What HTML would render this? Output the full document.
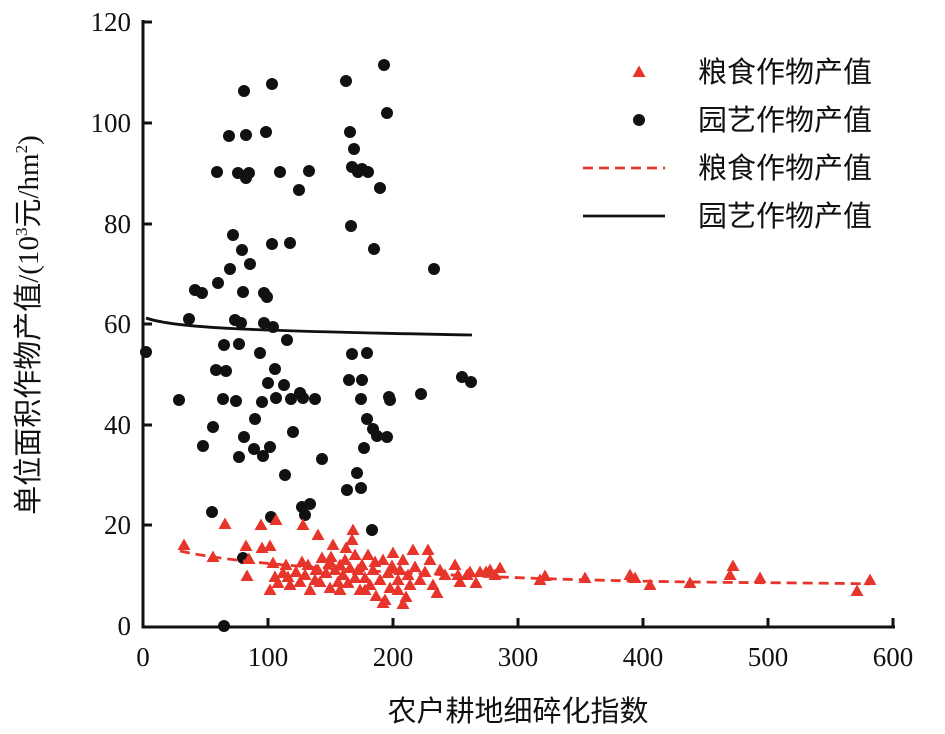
<!DOCTYPE html><html><head><meta charset="utf-8"><style>body{margin:0;background:#fff}svg text{font-family:"Liberation Serif","Noto Sans CJK SC",serif;fill:#111}</style></head><body>
<svg width="945" height="729" viewBox="0 0 945 729" xmlns="http://www.w3.org/2000/svg">
<defs><polygon id="t" points="0,-6.5 6.5,5 -6.5,5" fill="#e8352b"/><circle id="c" r="6" fill="#111"/></defs>
<g stroke="#111" stroke-width="3" fill="none"><path d="M143,20 V627 H895"/>
<path d="M143,22h9M143,123h9M143,224h9M143,324h9M143,425h9M143,525h9M268,627v-9M393,627v-9M518,627v-9M643,627v-9M768,627v-9M893,627v-9"/></g>
<g font-size="27" text-anchor="end"><text x="131" y="31">120</text><text x="131" y="132">100</text><text x="131" y="233">80</text><text x="131" y="333">60</text><text x="131" y="434">40</text><text x="131" y="534">20</text><text x="131" y="635">0</text></g>
<g font-size="27" text-anchor="middle"><text x="143" y="666">0</text><text x="268" y="666">100</text><text x="393" y="666">200</text><text x="518" y="666">300</text><text x="643" y="666">400</text><text x="768" y="666">500</text><text x="893" y="666">600</text></g>
<text x="518" y="721" font-size="29" text-anchor="middle">农户耕地细碎化指数</text>
<text transform="translate(38,325) rotate(-90)" font-size="29" text-anchor="middle">单位面积作物产值/(10<tspan font-size="17" dy="-11">3</tspan><tspan dy="11">元/hm</tspan><tspan font-size="17" dy="-11">2</tspan><tspan dy="11">)</tspan></text>
<g>
<use href="#c" x="146" y="352"/><use href="#c" x="179" y="400"/><use href="#c" x="189" y="319"/><use href="#c" x="195" y="290"/><use href="#c" x="202" y="293"/><use href="#c" x="203" y="446"/><use href="#c" x="212" y="512"/><use href="#c" x="213" y="427"/><use href="#c" x="216" y="370"/><use href="#c" x="217" y="172"/><use href="#c" x="218" y="283"/><use href="#c" x="223" y="399"/><use href="#c" x="224" y="345"/><use href="#c" x="226" y="371"/><use href="#c" x="229" y="136"/><use href="#c" x="230" y="269"/><use href="#c" x="233" y="235"/><use href="#c" x="235" y="320"/><use href="#c" x="236" y="401"/><use href="#c" x="238" y="173"/><use href="#c" x="239" y="344"/><use href="#c" x="239" y="457"/><use href="#c" x="241" y="323"/><use href="#c" x="242" y="250"/><use href="#c" x="243" y="292"/><use href="#c" x="244" y="91"/><use href="#c" x="244" y="437"/><use href="#c" x="246" y="135"/><use href="#c" x="246" y="178"/><use href="#c" x="249" y="173"/><use href="#c" x="250" y="264"/><use href="#c" x="254" y="449"/><use href="#c" x="255" y="419"/><use href="#c" x="260" y="353"/><use href="#c" x="262" y="402"/><use href="#c" x="263" y="456"/><use href="#c" x="264" y="323"/><use href="#c" x="264" y="293"/><use href="#c" x="266" y="132"/><use href="#c" x="267" y="297"/><use href="#c" x="268" y="383"/><use href="#c" x="270" y="447"/><use href="#c" x="271" y="517"/><use href="#c" x="272" y="84"/><use href="#c" x="272" y="244"/><use href="#c" x="273" y="327"/><use href="#c" x="275" y="369"/><use href="#c" x="276" y="398"/><use href="#c" x="280" y="172"/><use href="#c" x="284" y="385"/><use href="#c" x="285" y="475"/><use href="#c" x="287" y="340"/><use href="#c" x="290" y="243"/><use href="#c" x="291" y="399"/><use href="#c" x="293" y="432"/><use href="#c" x="299" y="190"/><use href="#c" x="302" y="507"/><use href="#c" x="303" y="398"/><use href="#c" x="305" y="515"/><use href="#c" x="309" y="171"/><use href="#c" x="310" y="504"/><use href="#c" x="315" y="399"/><use href="#c" x="322" y="459"/><use href="#c" x="349" y="380"/><use href="#c" x="350" y="132"/><use href="#c" x="351" y="226"/><use href="#c" x="352" y="354"/><use href="#c" x="352" y="167"/><use href="#c" x="354" y="149"/><use href="#c" x="358" y="172"/><use href="#c" x="361" y="488"/><use href="#c" x="362" y="169"/><use href="#c" x="364" y="448"/><use href="#c" x="367" y="419"/><use href="#c" x="368" y="172"/><use href="#c" x="372" y="530"/><use href="#c" x="347" y="490"/><use href="#c" x="357" y="473"/><use href="#c" x="361" y="399"/><use href="#c" x="367" y="353"/><use href="#c" x="362" y="380"/><use href="#c" x="374" y="249"/><use href="#c" x="380" y="188"/><use href="#c" x="384" y="65"/><use href="#c" x="387" y="113"/><use href="#c" x="387" y="437"/><use href="#c" x="389" y="397"/><use href="#c" x="390" y="400"/><use href="#c" x="377" y="436"/><use href="#c" x="421" y="394"/><use href="#c" x="434" y="269"/><use href="#c" x="462" y="377"/><use href="#c" x="471" y="382"/><use href="#c" x="243" y="558"/><use href="#c" x="224" y="626"/><use href="#c" x="373" y="429"/><use href="#c" x="346" y="81"/><use href="#c" x="300" y="393"/>
</g>
<g>
<use href="#t" x="184" y="545"/><use href="#t" x="213" y="557"/><use href="#t" x="225" y="524"/><use href="#t" x="246" y="546"/><use href="#t" x="247" y="576"/><use href="#t" x="249" y="559"/><use href="#t" x="261" y="525"/><use href="#t" x="262" y="548"/><use href="#t" x="270" y="546"/><use href="#t" x="275" y="577"/><use href="#t" x="273" y="563"/><use href="#t" x="270" y="590"/><use href="#t" x="276" y="520"/><use href="#t" x="283" y="573"/><use href="#t" x="278" y="583"/><use href="#t" x="288" y="577"/><use href="#t" x="290" y="585"/><use href="#t" x="300" y="582"/><use href="#t" x="302" y="562"/><use href="#t" x="303" y="525"/><use href="#t" x="305" y="575"/><use href="#t" x="308" y="565"/><use href="#t" x="310" y="590"/><use href="#t" x="315" y="580"/><use href="#t" x="316" y="570"/><use href="#t" x="318" y="535"/><use href="#t" x="320" y="582"/><use href="#t" x="322" y="558"/><use href="#t" x="326" y="573"/><use href="#t" x="330" y="588"/><use href="#t" x="331" y="557"/><use href="#t" x="333" y="545"/><use href="#t" x="335" y="570"/><use href="#t" x="338" y="582"/><use href="#t" x="340" y="590"/><use href="#t" x="343" y="575"/><use href="#t" x="345" y="560"/><use href="#t" x="346" y="548"/><use href="#t" x="348" y="583"/><use href="#t" x="350" y="568"/><use href="#t" x="352" y="540"/><use href="#t" x="353" y="530"/><use href="#t" x="355" y="578"/><use href="#t" x="358" y="570"/><use href="#t" x="360" y="590"/><use href="#t" x="362" y="565"/><use href="#t" x="365" y="578"/><use href="#t" x="368" y="555"/><use href="#t" x="370" y="585"/><use href="#t" x="373" y="570"/><use href="#t" x="375" y="562"/><use href="#t" x="376" y="596"/><use href="#t" x="380" y="580"/><use href="#t" x="383" y="560"/><use href="#t" x="385" y="600"/><use href="#t" x="388" y="573"/><use href="#t" x="390" y="588"/><use href="#t" x="392" y="566"/><use href="#t" x="393" y="553"/><use href="#t" x="398" y="580"/><use href="#t" x="400" y="570"/><use href="#t" x="403" y="560"/><use href="#t" x="406" y="597"/><use href="#t" x="408" y="575"/><use href="#t" x="410" y="585"/><use href="#t" x="413" y="550"/><use href="#t" x="415" y="567"/><use href="#t" x="420" y="580"/><use href="#t" x="425" y="572"/><use href="#t" x="428" y="550"/><use href="#t" x="430" y="560"/><use href="#t" x="433" y="585"/><use href="#t" x="437" y="593"/><use href="#t" x="440" y="570"/><use href="#t" x="445" y="575"/><use href="#t" x="455" y="565"/><use href="#t" x="458" y="575"/><use href="#t" x="460" y="582"/><use href="#t" x="467" y="575"/><use href="#t" x="470" y="572"/><use href="#t" x="476" y="583"/><use href="#t" x="480" y="572"/><use href="#t" x="486" y="572"/><use href="#t" x="490" y="570"/><use href="#t" x="495" y="575"/><use href="#t" x="500" y="568"/><use href="#t" x="540" y="580"/><use href="#t" x="545" y="576"/><use href="#t" x="585" y="578"/><use href="#t" x="630" y="575"/><use href="#t" x="635" y="578"/><use href="#t" x="650" y="585"/><use href="#t" x="690" y="583"/><use href="#t" x="730" y="575"/><use href="#t" x="733" y="566"/><use href="#t" x="760" y="578"/><use href="#t" x="857" y="591"/><use href="#t" x="870" y="580"/><use href="#t" x="403" y="604"/><use href="#t" x="383" y="603"/><use href="#t" x="398" y="590"/><use href="#t" x="330" y="562"/><use href="#t" x="340" y="565"/><use href="#t" x="318" y="570"/><use href="#t" x="296" y="572"/><use href="#t" x="286" y="565"/><use href="#t" x="355" y="555"/><use href="#t" x="365" y="590"/>
</g>
<path d="M146,318 C175,328 250,331 472,335" stroke="#111" stroke-width="2.8" fill="none"/>
<path d="M180,551 C230,562 320,570 500,577 S800,582 870,584" stroke="#e8352b" stroke-width="2.8" fill="none" stroke-dasharray="10,6"/>
<use href="#t" x="639" y="72"/><use href="#c" x="639" y="120"/>
<path d="M583,168H665" stroke="#e8352b" stroke-width="2.8" stroke-dasharray="10,6"/>
<path d="M583,216H665" stroke="#111" stroke-width="2.8"/>
<g font-size="29"><text x="698" y="82">粮食作物产值</text><text x="698" y="130">园艺作物产值</text><text x="698" y="178">粮食作物产值</text><text x="698" y="226">园艺作物产值</text></g>
</svg></body></html>
